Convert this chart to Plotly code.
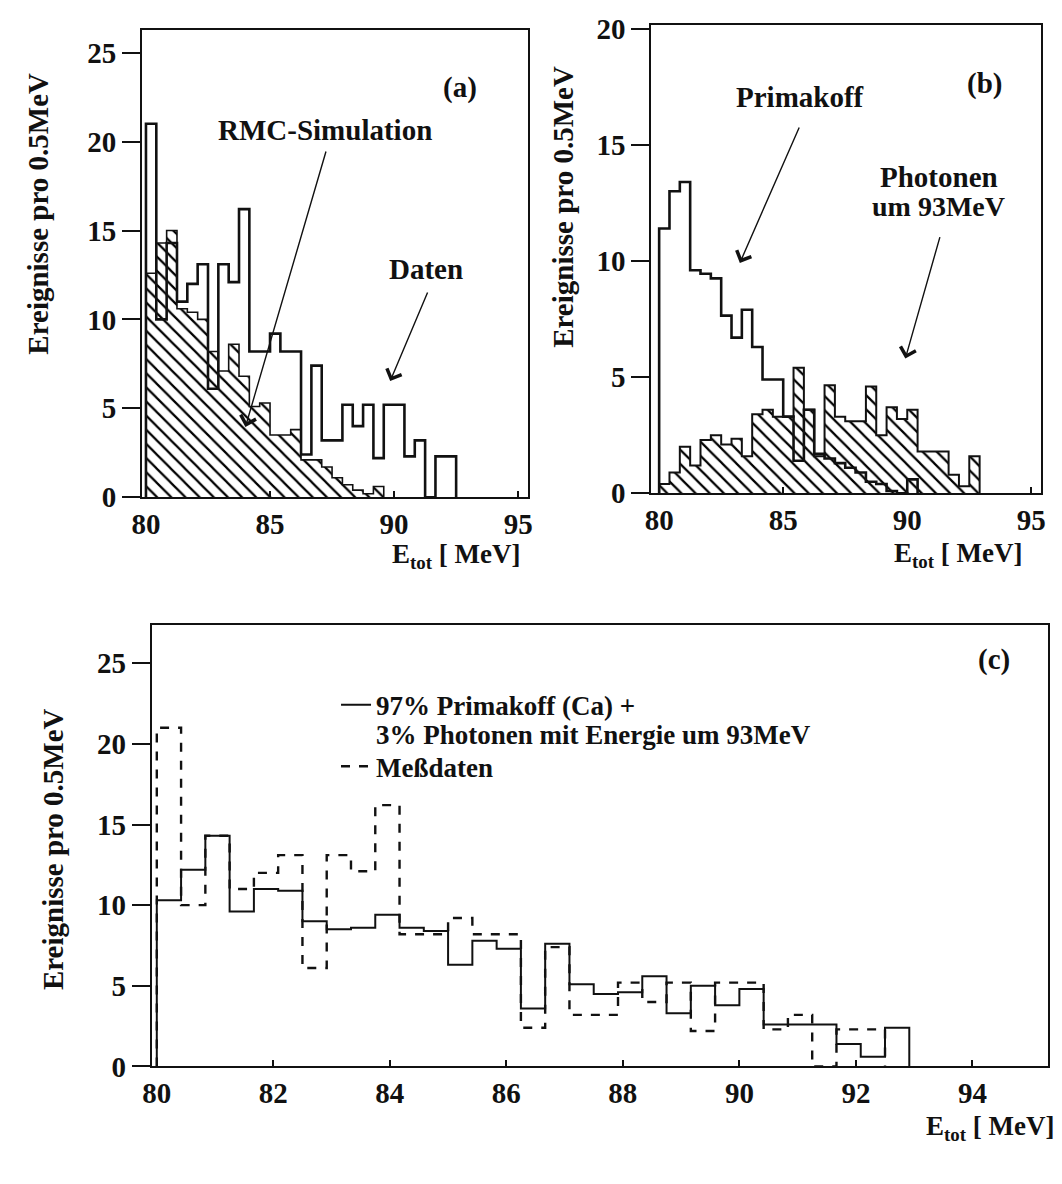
import numpy as np
import plotly.graph_objects as go

# ---------------- data ----------------
E_MIN, E_MAX, N_BINS = 80.0, 95.0, 36          # 36 bins over 80..95 MeV

# panel (a): measured data and RMC simulation (events per bin)
daten = [21.0, 10.0, 14.3, 11.0, 12.0, 13.1, 6.1, 13.1, 12.1, 16.2,
         8.2, 8.2, 9.2, 8.2, 8.2, 2.4, 7.4, 3.2, 3.2, 5.2,
         4.0, 5.2, 2.2, 5.2, 5.2, 2.3, 3.2, 0.0, 2.3, 2.3]
rmc_simulation = [12.6, 14.3, 15.0, 10.6, 10.4, 10.0, 8.2, 7.1, 8.6, 6.8,
                  5.1, 5.3, 3.5, 3.5, 3.8, 2.1, 2.1, 1.7, 1.1, 0.7,
                  0.4, 0.2, 0.6]

# panel (b): Primakoff simulation and photons around 93 MeV
primakoff = [11.4, 13.0, 13.4, 9.6, 9.45, 9.25, 7.65, 6.7, 7.9, 6.3,
             4.9, 4.9, 3.3, 1.4, 3.6, 1.7, 1.5, 1.3, 1.1, 0.9,
             0.5, 0.4, 0.1, 0.0, 0.6]
photonen = [0.4, 0.9, 2.0, 1.2, 2.3, 2.5, 2.1, 2.35, 1.6, 3.4,
            3.6, 3.3, 3.3, 5.4, 3.6, 1.6, 4.65, 3.3, 3.1, 3.1,
            4.6, 2.5, 3.7, 3.2, 3.6, 1.8, 1.8, 1.8, 0.8, 0.3, 1.6]

# panel (c): 97% Primakoff (Ca) + 3% photons, and measured data
modell = [10.3, 12.2, 14.3, 9.6, 11.0, 10.9, 9.0, 8.5, 8.6, 9.4,
          8.6, 8.4, 6.3, 7.8, 7.3, 3.6, 7.6, 5.1, 4.5, 4.6,
          5.6, 3.3, 5.0, 3.8, 4.8, 2.6, 2.6, 2.6, 1.4, 0.6, 2.4]
messdaten = daten

Y_TICKS_A = [0, 5, 10, 15, 20, 25]
Y_TICKS_B = [0, 5, 10, 15, 20]
Y_TICKS_C = [0, 5, 10, 15, 20, 25]
X_TICKS_AB = [80, 85, 90, 95]
X_TICKS_C = [80, 82, 84, 86, 88, 90, 92, 94]

Y_TITLE = "Ereignisse pro 0.5MeV"
X_TITLE = "E<sub>tot</sub> [ MeV]"
LEG_MODEL_1 = "97% Primakoff (Ca) +"
LEG_MODEL_2 = "3% Photonen mit Energie um 93MeV"
LEG_DATA = "Meßdaten"

# ---------------- helpers ----------------
W, H = 1062, 1184
INK = "#111111"
FONT = "Liberation Serif"


def step_outline(vals):
    """Closed step outline of a histogram (starts/ends on the baseline)."""
    vals = np.asarray(vals, dtype=float)
    edges = E_MIN + np.arange(len(vals) + 1) * (E_MAX - E_MIN) / N_BINS
    x = np.concatenate([[edges[0]], np.repeat(edges, 2)[1:-1], [edges[-1]]])
    y = np.concatenate([[0.0], np.repeat(vals, 2), [0.0]])
    return x, y


def px(xp):
    return xp / W


def py(yp):
    return 1 - yp / H


hatch = dict(shape="\\", fgcolor="black", fgopacity=1, bgcolor="white",
             size=10, solidity=0.22)

fig = go.Figure()

# panel (a)
x, y = step_outline(rmc_simulation)
fig.add_trace(go.Scatter(x=x, y=y, mode="lines", fill="toself", fillpattern=hatch,
                         fillcolor="white", line=dict(color=INK, width=1.6),
                         xaxis="x", yaxis="y", showlegend=False, hoverinfo="skip"))
x, y = step_outline(daten)
fig.add_trace(go.Scatter(x=x, y=y, mode="lines", line=dict(color=INK, width=2.6),
                         xaxis="x", yaxis="y", showlegend=False))

# panel (b)
x, y = step_outline(photonen)
fig.add_trace(go.Scatter(x=x, y=y, mode="lines", fill="toself", fillpattern=hatch,
                         fillcolor="white", line=dict(color=INK, width=2.0),
                         xaxis="x2", yaxis="y2", showlegend=False, hoverinfo="skip"))
x, y = step_outline(primakoff)
fig.add_trace(go.Scatter(x=x, y=y, mode="lines", line=dict(color=INK, width=2.6),
                         xaxis="x2", yaxis="y2", showlegend=False))

# panel (c)
x, y = step_outline(modell)
fig.add_trace(go.Scatter(x=x, y=y, mode="lines", line=dict(color=INK, width=2.0),
                         xaxis="x3", yaxis="y3", legend="legend", name=LEG_MODEL_1))
x, y = step_outline(messdaten)
fig.add_trace(go.Scatter(x=x, y=y, mode="lines",
                         line=dict(color=INK, width=2.4, dash="dash"),
                         xaxis="x3", yaxis="y3", legend="legend2", name=LEG_DATA))

FS = 29
tickfont = dict(family=FONT, size=FS, color=INK, weight="bold")
base = dict(showgrid=False, zeroline=False, showline=True, mirror=True,
            linecolor=INK, linewidth=2, tickwidth=2, tickcolor=INK, tickfont=tickfont)
xcommon = dict(base, ticks="inside", ticklen=6)
ycommon = dict(base, ticks="outside", ticklen=18)

leg_font = dict(family=FONT, size=27, color=INK, weight="bold")

fig.update_layout(
    width=W, height=H, margin=dict(l=0, r=0, t=0, b=0),
    paper_bgcolor="white", plot_bgcolor="white",
    xaxis=dict(domain=[px(133), px(525)], range=[79.84, 95.4], anchor="y",
               tickvals=X_TICKS_AB, **xcommon),
    yaxis=dict(domain=[py(497), py(18)], range=[0, 26.3], anchor="x",
               tickvals=Y_TICKS_A, **ycommon),
    xaxis2=dict(domain=[px(650), px(1046)], range=[79.68, 95.4], anchor="y2",
                tickvals=X_TICKS_AB, **xcommon),
    yaxis2=dict(domain=[py(493), py(13)], range=[0, 20.17], anchor="x2",
                tickvals=Y_TICKS_B, **ycommon),
    xaxis3=dict(domain=[px(143), px(1053)], range=[79.915, 95.3], anchor="y3",
                tickvals=X_TICKS_C, **xcommon),
    yaxis3=dict(domain=[py(1080), py(628)], range=[0, 27.36], anchor="x3",
                tickvals=Y_TICKS_C, **ycommon),
    legend=dict(x=px(330), y=py(710), xanchor="left", yanchor="middle",
                bgcolor="rgba(0,0,0,0)", font=leg_font),
    legend2=dict(x=px(330), y=py(773), xanchor="left", yanchor="middle",
                 bgcolor="rgba(0,0,0,0)", font=leg_font),
)

ann_font = dict(family=FONT, size=FS, color=INK, weight="bold")
title_font = dict(family=FONT, size=FS, color=INK, weight="bold")
xtitle_font = dict(family=FONT, size=27, color=INK, weight="bold")
annotations = []


def text(t, xp, yp, font=ann_font, angle=0, xanchor="center"):
    annotations.append(dict(text=t, x=px(xp), y=py(yp), xref="paper", yref="paper",
                            showarrow=False, font=font, textangle=angle,
                            xanchor=xanchor, yanchor="middle"))


def arrow(tail, tip):
    annotations.append(dict(text="", x=px(tip[0]), y=py(tip[1]), xref="paper",
                            yref="paper", showarrow=True, axref="pixel", ayref="pixel",
                            ax=tail[0] - tip[0], ay=tail[1] - tip[1],
                            arrowhead=4, arrowsize=2.2, arrowwidth=1.4,
                            arrowcolor=INK))


# panel (a)
text("(a)", 456, 77)
text("RMC-Simulation", 319, 121)
text("Daten", 421, 263)
arrow((319, 148), (238, 425))
arrow((423, 288), (385, 378))
text(Y_TITLE, 28, 207, title_font, -90)
text(X_TITLE, 452, 557, xtitle_font)

# panel (b)
small = dict(ann_font, size=28)
text("(b)", 988, 73)
text("Primakoff", 801, 87)
text("Photonen", 942, 169)
text("um 93MeV", 942, 199, small)
arrow((800, 120), (740, 257))
arrow((943, 232), (908, 355))
text(Y_TITLE, 561, 200, title_font, -90)
text(X_TITLE, 962, 556, xtitle_font)

# panel (c)
text("(c)", 998, 663)
text(LEG_MODEL_2, 369, 741, leg_font, xanchor="left")
text(Y_TITLE, 42, 857, title_font, -90)
text(X_TITLE, 994, 1143, xtitle_font)

fig.update_layout(annotations=annotations)

fig.write_html("out.html")
